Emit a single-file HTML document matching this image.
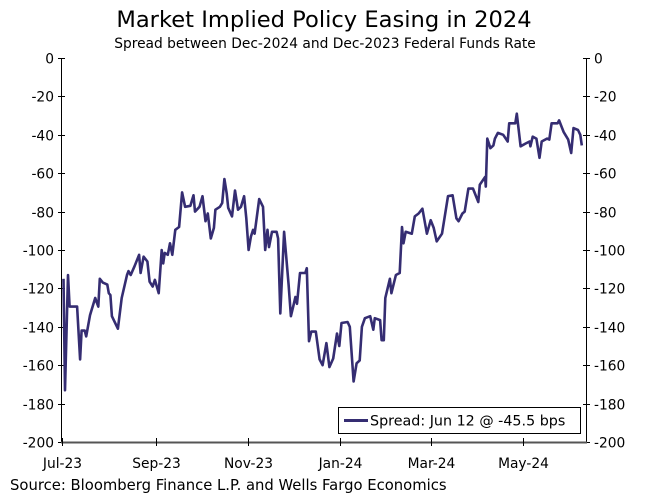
<!DOCTYPE html>
<html><head><meta charset="utf-8"><style>
body{margin:0;background:#fff;}
svg{display:block;font-family:"DejaVu Sans","Liberation Sans",sans-serif;}
</style></head><body>
<svg id="chart" width="649" height="502">
<text x="324" y="27" text-anchor="middle" font-size="22.6" fill="#000">Market Implied Policy Easing in 2024</text>
<text x="325" y="48" text-anchor="middle" font-size="13.8" fill="#000">Spread between Dec-2024 and Dec-2023 Federal Funds Rate</text>
<text x="10" y="490" font-size="14.8" fill="#000">Source: Bloomberg Finance L.P. and Wells Fargo Economics</text>
<g id="axes"></g>
<g id="series"></g>
<g>
<rect x="338.5" y="407.5" width="242" height="26" fill="#fff" stroke="#000" stroke-width="1"/>
<line x1="344" y1="420.5" x2="368" y2="420.5" stroke="#352d72" stroke-width="3"/>
<text x="370" y="425.5" font-size="14.3" fill="#000">Spread: Jun 12 @ -45.5 bps</text>
</g>
</svg>
<script>
const days=[1,2,4,5,10,12,13,15,16,18.5,22,24,25,27,30,31,32,33,37,39.5,43,44,45.5,48,51,52,54,56.5,58,60,61.5,64,66,67,68,70,71.5,73,75,77.5,79.5,81.5,85,87,88,91,93,95,96.5,98.5,100.5,101.5,104.5,106,107.5,109,110,112.5,114.5,116.5,118.5,120.5,122,123.5,125,126.5,127.5,130.5,133,134.5,136,137,139,142,143,144.5,147,150,151.5,153,154.5,155.5,157.5,161,162,163.5,165,168,170.5,172.5,175,177,179.5,182,183.5,185,189,190.5,193,195,197,198.5,200.5,204,206,207,210.5,211.5,213,214,217,218,221,223.5,225,226,227.5,231.5,233.5,236,238.5,241.5,244,246,248,251.5,255.5,258.5,261,262.5,265,266.5,269,272,275.5,276.5,280,280.5,281.5,283.5,285.5,286.5,288.5,292,295,296,300,301,303.5,307,309.5,310,311.5,314,316,317.5,321,322.5,324,328,329,332,335,337,338.5,341.5,343,344];
const values=[-115,-173,-113,-129.5,-129.5,-157,-142,-142,-145,-134,-125,-129.5,-115,-117,-118,-122.5,-123.5,-134.5,-141,-125,-113,-111,-113,-108.5,-102.5,-112,-103.5,-106,-116.5,-119,-115.5,-122.5,-100,-107,-101.5,-102.5,-96.5,-102.5,-89.5,-88,-70,-77.5,-77,-71.5,-80,-77.5,-72,-85,-81,-94,-88.5,-79,-77.5,-75.5,-63,-70.5,-78,-82.5,-69,-79,-77.5,-72,-83.5,-100,-93,-89.5,-91.5,-73.5,-77.5,-100,-89.5,-98.5,-90.5,-90.5,-94,-133,-90.5,-118,-134.5,-129.5,-124.5,-128,-112,-112,-109.5,-147.5,-142.5,-142.5,-157,-160,-148.5,-161,-156.5,-143.5,-150,-138,-137.5,-140,-168.5,-159,-157.5,-140,-135.5,-134.5,-141.5,-135.5,-136.5,-147,-147,-125,-115,-122.5,-113,-112,-88,-96.5,-90.5,-91.5,-82.5,-81,-78.5,-91.5,-84.5,-88.5,-95.5,-91.5,-72,-71.5,-83.5,-85,-81,-80,-68,-68,-75,-66,-62,-67,-42,-47,-45.5,-42,-39,-40,-43.5,-34,-34,-29,-46,-44.5,-43.5,-46,-41,-42,-52,-43.5,-42,-42.5,-34,-34,-32.5,-38.5,-42.5,-49.5,-36.5,-37.5,-40,-45.5];
const yTicks=[0,-20,-40,-60,-80,-100,-120,-140,-160,-180,-200];
const xTickDays=[0,62,123,184,244,305];
const xTickLabels=["Jul-23","Sep-23","Nov-23","Jan-24","Mar-24","May-24"];
const L=62,R=586,T=58,B=442,DAYMAX=346.8;
const xs=d=>L+d*(R-L)/DAYMAX;
const ys=v=>T+(0-v)*(B-T)/200;
const NS="http://www.w3.org/2000/svg";
const axes=document.getElementById('axes');
function mk(tag,attrs,parent){const e=document.createElementNS(NS,tag);for(const k in attrs)e.setAttribute(k,attrs[k]);parent.appendChild(e);return e;}
let e=mk('line',{x1:L-0.5,y1:T,x2:L-0.5,y2:B,stroke:'#000','stroke-width':1},axes);


e=mk('line',{x1:R+0.5,y1:T,x2:R+0.5,y2:B,stroke:'#000','stroke-width':1},axes);


yTicks.forEach(v=>{
 const y=Math.round(ys(v))+0.5;
 let t=mk('line',{x1:L-4,y1:y,x2:L+3,y2:y,stroke:'#000'},axes);
 
 
 t=mk('line',{x1:R-3,y1:y,x2:R+4,y2:y,stroke:'#000'},axes);
 
 
 let tx=mk('text',{x:L-8,y:y+5,'text-anchor':'end','font-size':13.8},axes);tx.textContent=v;
 
 
 tx=mk('text',{x:R+8,y:y+5,'text-anchor':'start','font-size':13.8},axes);tx.textContent=v;
 
 
});
e=mk('line',{x1:L-1,y1:B+0.5,x2:R+1,y2:B+0.5,stroke:'#555','stroke-width':2},axes);


xTickDays.forEach((d,i)=>{
 const x=Math.round(xs(d))+0.5;
 let t=mk('line',{x1:x,y1:B-4,x2:x,y2:B+4,stroke:'#000'},axes);
 
 
 let tx=mk('text',{x:x,y:468,'text-anchor':'middle','font-size':13.8},axes);tx.textContent=xTickLabels[i];
 
 
});
const pts=days.map((d,i)=>xs(d).toFixed(1)+','+ys(values[i]).toFixed(1)).join(' ');
const line=mk('polyline',{points:pts,fill:'none',stroke:'#352d72','stroke-width':2.6,'stroke-linejoin':'round'},document.getElementById('series'));


</script>
</body></html>
